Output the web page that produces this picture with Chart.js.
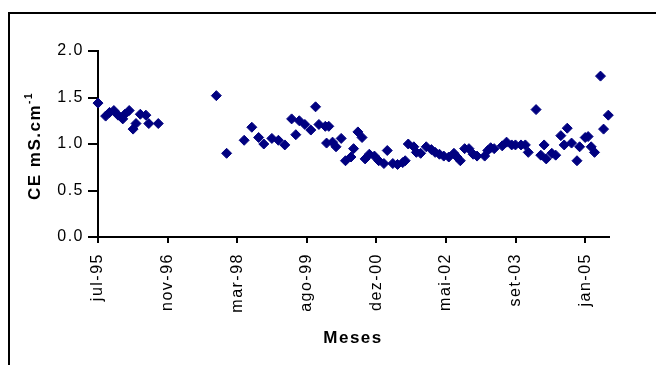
<!DOCTYPE html>
<html>
<head>
<meta charset="utf-8">
<script src="https://cdn.jsdelivr.net/npm/chart.js@4.4.0/dist/chart.umd.min.js"></script>
<style>
  html, body { margin: 0; padding: 0; background: #fff; }
  #wrap { width: 656px; height: 365px; }
</style>
</head>
<body>
<div id="wrap"><canvas id="myChart" width="656" height="365"></canvas></div>
<script>
// days counted from 1 jul 1995
var dayOffsets = [0, 55, 83, 114, 144, 178, 193, 224, 252, 273, 304, 344, 365, 433,
    850, 924, 1050, 1105, 1154, 1191, 1249, 1296, 1342, 1391, 1421, 1446, 1486, 1529,
    1563, 1587, 1633, 1642, 1658, 1685, 1710, 1747, 1778, 1817, 1836, 1867, 1897, 1919,
    1949, 1986, 2017, 2054, 2078, 2118, 2152, 2189, 2207, 2229, 2269, 2287, 2318, 2358,
    2395, 2422, 2453, 2484, 2520, 2557, 2579, 2603, 2634, 2665, 2695, 2723, 2778, 2800,
    2821, 2846, 2904, 2935, 2972, 2999, 3039, 3070, 3091, 3147, 3181, 3205, 3220, 3260,
    3288, 3325, 3349, 3371, 3402, 3441, 3460, 3500, 3521, 3543, 3567, 3610, 3632, 3666];

var ceValues = [1.44, 1.30, 1.34, 1.36, 1.31, 1.27, 1.32, 1.36, 1.16, 1.22, 1.32, 1.31, 1.22, 1.22,
    1.52, 0.90, 1.04, 1.18, 1.07, 1.00, 1.06, 1.04, 0.99, 1.27, 1.10, 1.25, 1.21, 1.15,
    1.40, 1.21, 1.19, 1.01, 1.19, 1.02, 0.97, 1.06, 0.82, 0.86, 0.95, 1.13, 1.07, 0.84,
    0.89, 0.87, 0.82, 0.79, 0.93, 0.79, 0.78, 0.80, 0.82, 1.00, 0.97, 0.91, 0.90, 0.97,
    0.94, 0.91, 0.89, 0.87, 0.86, 0.90, 0.86, 0.82, 0.95, 0.95, 0.89, 0.87, 0.87, 0.93,
    0.96, 0.95, 0.98, 1.02, 0.99, 0.99, 0.99, 0.99, 0.91, 1.37, 0.88, 0.99, 0.84, 0.90,
    0.88, 1.09, 0.99, 1.17, 1.01, 0.82, 0.97, 1.07, 1.08, 0.97, 0.91, 1.73, 1.16, 1.31];

// tick positions in days (jul-95, nov-96, mar-98, ago-99, dez-00, mai-02, set-03, jan-05)
var xTickDays = [0, 500, 1000, 1500, 2000, 2500, 3000, 3500];
var yTickValues = [0, 0.5, 1, 1.5, 2];

var monthNames = ['jan', 'fev', 'mar', 'abr', 'mai', 'jun', 'jul', 'ago', 'set', 'out', 'nov', 'dez'];
var startDate = Date.UTC(1995, 6, 1);
var xMax = 3671;

var fontFamily = "'Liberation Sans', Arial, sans-serif";
var navy = '#000080';

function dayLabel(d) {
    var dt = new Date(startDate + d * 86400000);
    var yy = String(dt.getUTCFullYear() % 100);
    if (yy.length < 2) yy = '0' + yy;
    return monthNames[dt.getUTCMonth()] + '-' + yy;
}

var points = dayOffsets.map(function(d, i) {
    return { x: d, y: ceValues[i] };
});

var framePlugin = {
    id: 'frame',
    beforeDraw: function(chart) {
        var ctx = chart.ctx;
        ctx.letterSpacing = '1.5px';
        ctx.save();
        ctx.strokeStyle = '#000';
        ctx.lineWidth = 2;
        ctx.strokeRect(9, 13, 700, 400);
        ctx.restore();
    },
    afterDraw: function(chart) {
        var ctx = chart.ctx;
        ctx.save();
        ctx.fillStyle = '#000';
        ctx.letterSpacing = '1.5px';
        ctx.font = "bold 17px " + fontFamily;
        ctx.textAlign = 'center';
        ctx.textBaseline = 'middle';
        ctx.fillText('Meses', 353, 338);

        // y title with superscript
        var main = 'CE mS.cm';
        var sup = '-1';
        ctx.font = "bold 17px " + fontFamily;
        var w1 = ctx.measureText(main).width;
        ctx.font = "bold 10px " + fontFamily;
        var w2 = ctx.measureText(sup).width;
        ctx.translate(34, 146);
        ctx.rotate(-Math.PI / 2);
        ctx.textAlign = 'left';
        ctx.textBaseline = 'alphabetic';
        var x0 = -(w1 + w2) / 2;
        ctx.font = "bold 17px " + fontFamily;
        ctx.fillText(main, x0, 6);
        ctx.font = "bold 10px " + fontFamily;
        ctx.fillText(sup, x0 + w1, -2);
        ctx.restore();
    }
};

var config = {
    type: 'scatter',
    data: {
        datasets: [{
            data: points,
            pointStyle: 'rectRot',
            pointRadius: 5,
            pointBorderWidth: 1,
            backgroundColor: navy,
            borderColor: navy,
            clip: false
        }]
    },
    options: {
        responsive: false,
        animation: false,
        layout: { padding: { top: 51, right: 47, left: 0, bottom: 0 } },
        plugins: {
            legend: { display: false },
            tooltip: { enabled: false }
        },
        scales: {
            x: {
                type: 'linear',
                min: 0,
                max: xMax,
                afterFit: function(scale) { scale.height = 128; },
                afterBuildTicks: function(scale) {
                    scale.ticks = xTickDays.map(function(v) { return { value: v }; });
                },
                ticks: {
                    autoSkip: false,
                    minRotation: 90,
                    maxRotation: 90,
                    padding: 10,
                    color: '#000',
                    font: { family: fontFamily, size: 16 },
                    callback: function(v) { return dayLabel(v); }
                },
                grid: { drawOnChartArea: false, tickLength: 6, color: '#000', lineWidth: 2 },
                border: { color: '#000', width: 2 }
            },
            y: {
                min: 0,
                max: 2,
                afterFit: function(scale) { scale.width = 98; },
                afterBuildTicks: function(scale) {
                    scale.ticks = yTickValues.map(function(v) { return { value: v }; });
                },
                ticks: {
                    padding: 4,
                    color: '#000',
                    font: { family: fontFamily, size: 16 },
                    callback: function(v) { return v.toFixed(1); }
                },
                grid: { drawOnChartArea: false, tickLength: 10, color: '#000', lineWidth: 2 },
                border: { color: '#000', width: 2 }
            }
        }
    },
    plugins: [framePlugin]
};

if (document.getElementById("myChart")) {
    var myChart = new Chart(document.getElementById("myChart").getContext("2d"), config);
}
</script>
</body>
</html>
